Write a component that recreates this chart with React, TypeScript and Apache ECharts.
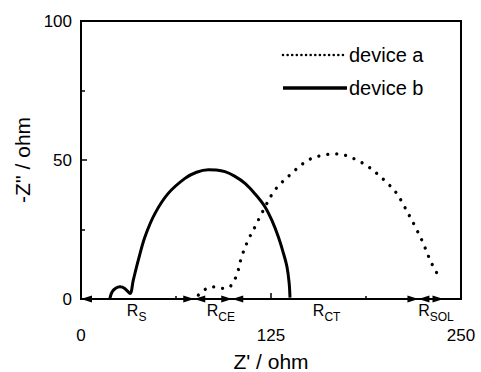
import React, { useEffect, useRef } from "react";
import * as echarts from "echarts";

const deviceA: number[][] = [
  [77.2, 1.4], [81, 3.2], [85.9, 4.4], [90, 4.2], [93.6, 3.8], [98, 4.4],
  [102.4, 8.6], [105.7, 15.2], [110, 21.2], [114.5, 26], [118.9, 30.8],
  [127.6, 39.2], [138.6, 45.2], [146.3, 48.8], [152, 50.6], [160, 51.8],
  [168.2, 52.2], [175, 51.5], [181.4, 50], [188, 48], [194.5, 45.2],
  [201, 42], [207.7, 38], [212, 34], [216.4, 29.6], [221, 24.8],
  [225.2, 20], [228.5, 15.5], [231.8, 11.6], [236.2, 7.4],
];

const deviceB: number[][] = [
  [19, 0.2], [20.5, 2.6], [22.8, 3.9], [25.7, 4.4], [28.8, 3.8], [32.2, 2],
  [34.4, 6.8], [37.7, 14], [42.1, 22.4], [48.7, 30.8], [57.4, 38],
  [68.4, 43.4], [76, 45.6], [83.8, 46.5], [89, 46.4], [94.7, 45.8],
  [101, 44.2], [107.9, 41.6], [114.5, 37.8], [121, 33.2], [125.8, 28],
  [129.8, 22.4], [133, 16.8], [135.5, 11.6], [136.9, 6], [137.5, 0.5],
];

// [start, end, label x] in ohm, and subscript text
const arrowSpans: number[][] = [
  [0, 74.5, 36.6],
  [74.5, 99.5, 92],
  [99.5, 222, 161.6],
  [222, 238.5, 233.5],
];
const arrowSubs = ["S", "CE", "CT", "SOL"];

const seriesNames = ["device a", "device b"];

const xTicks = { min: 0, max: 250, interval: 125 };
const yTicks = { min: 0, max: 100, interval: 50 };

const FONT = "Liberation Sans, Arial, sans-serif";

export default function App() {
  const ref = useRef<HTMLDivElement>(null);
  useEffect(() => {
    if (!ref.current) return;
    const chart = echarts.init(ref.current, undefined, { renderer: "svg" });
    const legendTextStyle = { fontSize: 20, fontFamily: FONT, fill: "#000", verticalAlign: "middle" };
    const option: any = {
      animation: false,
      backgroundColor: "#fff",
      grid: {
        left: 81,
        right: 20,
        top: 21,
        bottom: 73,
        show: true,
        borderColor: "#000",
        borderWidth: 2,
        backgroundColor: "transparent",
        outerBoundsMode: "none",
        containLabel: false,
      },
      graphic: [
        {
          type: "group",
          x: 283,
          y: 44,
          children: [
            {
              type: "line",
              shape: { x1: 0, y1: 11, x2: 64, y2: 11 },
              style: { stroke: "#000", lineWidth: 2.6, lineDash: [0.01, 4.6], lineCap: "round" },
            },
            { type: "text", x: 66, y: 11, style: { text: seriesNames[0], ...legendTextStyle } },
            {
              type: "line",
              shape: { x1: 0, y1: 44, x2: 64, y2: 44 },
              style: { stroke: "#000", lineWidth: 3.5 },
            },
            { type: "text", x: 66, y: 44, style: { text: seriesNames[1], ...legendTextStyle } },
          ],
        },
      ],
      xAxis: {
        type: "value",
        min: xTicks.min,
        max: xTicks.max,
        interval: xTicks.interval,
        name: "Z' / ohm",
        nameLocation: "middle",
        nameGap: 52,
        nameTextStyle: { fontSize: 21, lineHeight: 20, fontFamily: FONT, color: "#000" },
        axisLine: { lineStyle: { color: "#000", width: 2 } },
        axisTick: { inside: true, length: 6, lineStyle: { color: "#000", width: 1.5 } },
        minorTick: { show: true, splitNumber: 2, length: 3, lineStyle: { color: "#000", width: 1.5 } },
        axisLabel: { fontSize: 17, fontFamily: FONT, color: "#000", margin: 28 },
        splitLine: { show: false },
      },
      yAxis: {
        type: "value",
        min: yTicks.min,
        max: yTicks.max,
        interval: yTicks.interval,
        name: "-Z'' / ohm",
        nameLocation: "middle",
        nameGap: 47,
        nameTextStyle: { fontSize: 21, fontFamily: FONT, color: "#000" },
        axisLine: { lineStyle: { color: "#000", width: 2 } },
        axisTick: { inside: true, length: 6, lineStyle: { color: "#000", width: 1.5 } },
        minorTick: { show: true, splitNumber: 2, length: 4, lineStyle: { color: "#000", width: 1.5 } },
        axisLabel: { fontSize: 17, fontFamily: FONT, color: "#000", margin: 9 },
        splitLine: { show: false },
      },
      series: [
        {
          name: seriesNames[0],
          type: "line",
          data: deviceA,
          smooth: 0.35,
          symbol: "none",
          lineStyle: { color: "#000", width: 3.3, type: [0.01, 9], cap: "round" },
          itemStyle: { color: "#000" },
          z: 3,
        },
        {
          name: seriesNames[1],
          type: "line",
          data: deviceB,
          smooth: 0.35,
          symbol: "none",
          lineStyle: { color: "#000", width: 3 },
          itemStyle: { color: "#000" },
          z: 3,
        },
        {
          type: "custom",
          data: arrowSpans.map((s, i) => [s[0], s[1], s[2], i]),
          clip: false,
          silent: true,
          z: 5,
          renderItem: (params: any, api: any) => {
            const p1 = api.coord([api.value(0), 0]);
            const p2 = api.coord([api.value(1), 0]);
            const pl = api.coord([api.value(2), 0]);
            const idx = api.value(3);
            const y = p1[1];
            const L = 11;
            const H = 3.5;
            return {
              type: "group",
              children: [
                {
                  type: "line",
                  shape: { x1: p1[0], y1: y, x2: p2[0], y2: y },
                  style: { stroke: "#000", lineWidth: 1.5 },
                },
                {
                  type: "polygon",
                  shape: { points: [[p1[0], y], [p1[0] + L, y - H], [p1[0] + L, y + H]] },
                  style: { fill: "#000" },
                },
                {
                  type: "polygon",
                  shape: { points: [[p2[0], y], [p2[0] - L, y - H], [p2[0] - L, y + H]] },
                  style: { fill: "#000" },
                },
                {
                  type: "text",
                  x: pl[0],
                  y: y + 3,
                  style: {
                    text: "{r|R}{s|" + arrowSubs[idx] + "}",
                    align: "center",
                    verticalAlign: "top",
                    rich: {
                      r: { fontSize: 16, fontFamily: FONT, fill: "#000", color: "#000", lineHeight: 18, verticalAlign: "top" },
                      s: { fontSize: 12, fontFamily: FONT, fill: "#000", color: "#000", lineHeight: 13, verticalAlign: "top", padding: [9, 0, 0, 0] },
                    },
                  },
                },
              ],
            };
          },
        },
      ],
    };
    chart.setOption(option);
    return () => chart.dispose();
  }, []);
  return <div ref={ref} style={{ width: 481, height: 372, position: "absolute", left: 0, top: 0 }} />;
}
